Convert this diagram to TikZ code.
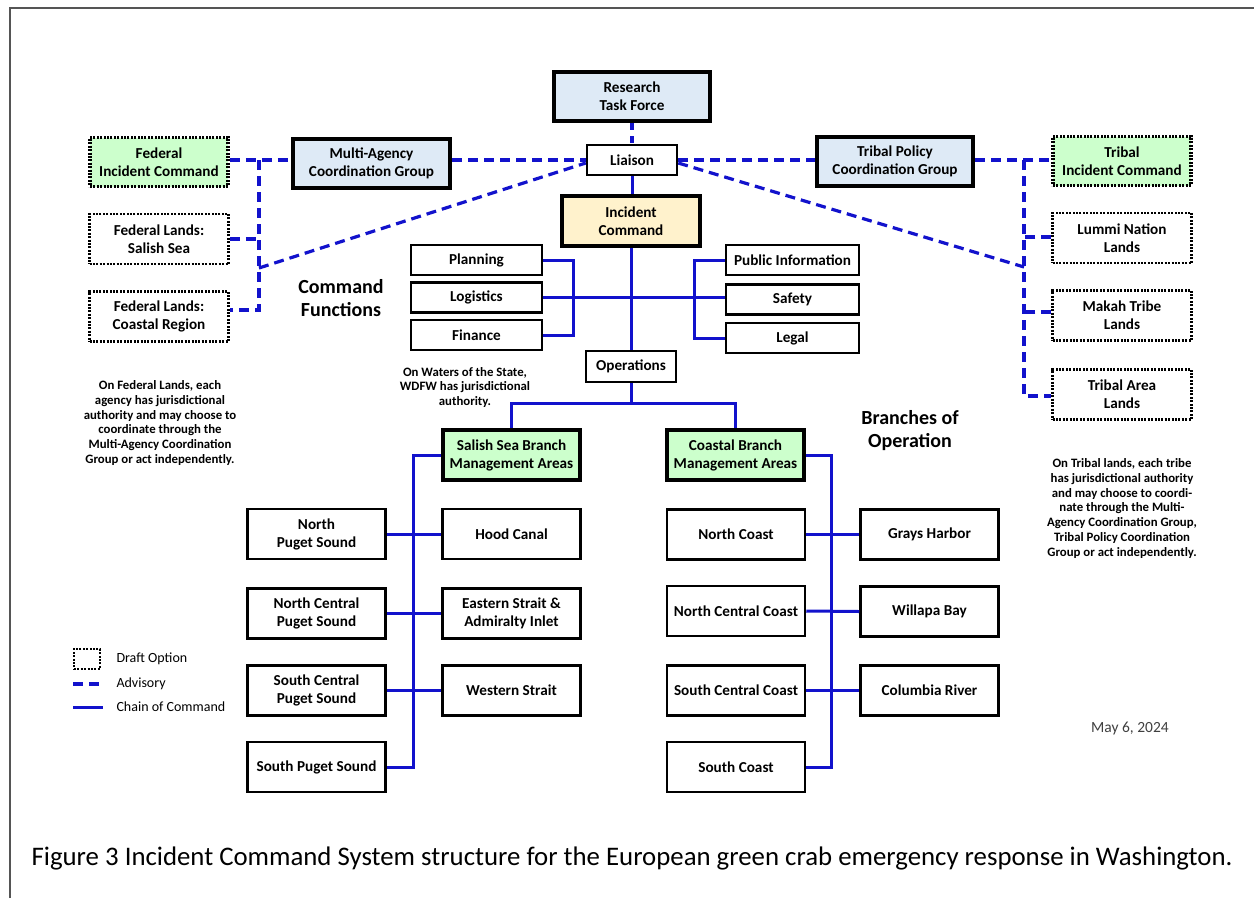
\documentclass[tikz,border=0pt]{standalone}
\usepackage{fontspec}
\setmainfont{Carlito}
\usepackage{xcolor}
\usepackage{tikz}

\definecolor{paleblue}{HTML}{DEEAF6}
\definecolor{paleyellow}{HTML}{FFF2CC}
\definecolor{palegreen}{HTML}{CCFFCC}
\definecolor{cmdblue}{HTML}{1212CC}
\definecolor{framegray}{HTML}{555555}

\begin{document}
\begin{tikzpicture}[
    x=1pt,y=-1pt,
    box/.style={draw,line width=2.5pt,fill=white,align=center,inner sep=0pt,
        font={\fontsize{15.2}{18}\selectfont\bfseries}},
    heavy/.style={box,line width=4pt},
    draft/.style={box,dash pattern=on 2pt off 1.4pt},
    kid/.style={box,minimum width=138pt,minimum height=50pt},
    func/.style={box,minimum width=131pt,minimum height=30pt},
    advisory/.style={cmdblue,line width=3.2pt,dash pattern=on 10pt off 6pt},
    command/.style={cmdblue,line width=3pt},
    note/.style={align=center,font={\fontsize{12.8}{14.7}\selectfont\bfseries}},
    heading/.style={align=center,font={\fontsize{20}{23}\selectfont\bfseries}},
    legend/.style={anchor=west,font={\fontsize{14}{16}\selectfont}},
    ]
    % Page and frame
    \useasboundingbox (0,0) rectangle (1254,898);
    \draw[framegray,line width=2pt] (10,898) -- (10,8) -- (1254,8);

    % Top of the command
    \node[heavy,fill=paleblue,minimum width=156pt,minimum height=49pt]
        (research) at (632,96.5) {Research\\Task Force};
    \node[box,minimum width=90pt,minimum height=30pt]
        (liaison) at (632,160) {Liaison};
    \node[heavy,fill=paleyellow,minimum width=138pt,minimum height=50pt]
        (ic) at (631,221) {Incident\\Command};
    \node[heavy,fill=paleblue,minimum width=157pt,minimum height=49pt]
        (macg) at (371.5,163) {Multi-Agency\\Coordination Group};
    \node[heavy,fill=paleblue,minimum width=156pt,minimum height=49pt]
        (tpcg) at (895,161.5) {Tribal Policy\\Coordination Group};

    % Federal side
    \node[draft,fill=palegreen,line width=3.5pt,minimum width=138pt,minimum height=49pt]
        (fedic) at (159,162) {Federal\\Incident Command};
    \node[draft,minimum width=139pt,minimum height=50pt]
        (fedsalish) at (159,239) {Federal Lands:\\Salish Sea};
    \node[draft,minimum width=139pt,minimum height=50pt]
        (fedcoast) at (159,316.5) {Federal Lands:\\Coastal Region};

    % Tribal side
    \node[draft,fill=palegreen,line width=3.5pt,minimum width=138pt,minimum height=49pt]
        (tribic) at (1122,161) {Tribal\\Incident Command};
    \node[draft,minimum width=139pt,minimum height=50pt]
        (lummi) at (1122,238) {Lummi Nation\\Lands};
    \node[draft,minimum width=139pt,minimum height=50pt]
        (makah) at (1122,315.5) {Makah Tribe\\Lands};
    \node[draft,minimum width=139pt,minimum height=50pt]
        (tribarea) at (1122,394.5) {Tribal Area\\Lands};

    % Command functions
    \node[func] (planning)  at (476.5,260) {Planning};
    \node[func] (logistics) at (476.5,297.5) {Logistics};
    \node[func] (finance)   at (476.5,335) {Finance};
    \node[func,minimum width=133pt] (pubinfo) at (792.5,260) {Public Information};
    \node[func,minimum width=133pt] (safety)  at (792.5,299.5) {Safety};
    \node[func,minimum width=133pt] (legal)   at (792.5,338) {Legal};
    \node[box,minimum width=90pt,minimum height=31pt]
        (ops) at (631,366.5) {Operations};

    % Branches
    \node[heavy,fill=palegreen,minimum width=137pt,minimum height=50pt]
        (salish) at (511.5,455) {Salish Sea Branch\\Management Areas};
    \node[heavy,fill=palegreen,minimum width=137pt,minimum height=50pt]
        (coastal) at (735.5,455) {Coastal Branch\\Management Areas};

    % Salish Sea areas
    \node[kid] (npuget)  at (316.5,534) {North\\Puget Sound};
    \node[kid] (ncpuget) at (316.5,613.5) {North Central\\Puget Sound};
    \node[kid] (scpuget) at (316.5,690.5) {South Central\\Puget Sound};
    \node[kid] (spuget)  at (316.5,767) {South Puget Sound};
    \node[kid] (hood)    at (511.5,534) {Hood Canal};
    \node[kid] (eastern) at (511.5,613.5) {Eastern Strait \&\\Admiralty Inlet};
    \node[kid] (western) at (511.5,690.5) {Western Strait};

    % Coastal areas
    \node[kid] (ncoast)  at (736,534.5) {North Coast};
    \node[kid] (nccoast) at (736,611) {North Central Coast};
    \node[kid] (sccoast) at (736,690.5) {South Central Coast};
    \node[kid] (scoast)  at (736,767) {South Coast};
    \node[kid] (grays)   at (929.5,534.5) {Grays Harbor};
    \node[kid] (willapa) at (929.5,611.5) {Willapa Bay};
    \node[kid] (columbia) at (929.5,690.5) {Columbia River};

    % Texts
    \node[heading] (cmdfunc) at (341,298.5) {Command\\Functions};
    \node[heading] (branchop) at (910,430.5) {Branches of\\Operation};
    \node[note] (waters) at (465,387.5)
        {On Waters of the State,\\WDFW has jurisdictional\\authority.};
    \node[note] (fednote) at (160,423)
        {On Federal Lands, each\\agency has jurisdictional\\authority and may choose to\\
         coordinate through the\\Multi-Agency Coordination\\Group or act independently.};
    \node[note] (tribnote) at (1122,508.5)
        {On Tribal lands, each tribe\\has jurisdictional authority\\and may choose to coordi-\\
         nate through the Multi-\\Agency Coordination Group,\\Tribal Policy Coordination\\
         Group or act independently.};
    \node[font={\fontsize{15.5}{17}\selectfont},text=black!75] (date) at (1130,729) {May 6, 2024};

    % Advisory links, federal side
    \coordinate (fedtop) at (259,160);
    \coordinate (fedbot) at (259,310);
    \coordinate (fedkink) at (259,268);
    \draw[advisory] (fedic.east |- liaison.west) -- (macg.west |- liaison.west);
    \draw[advisory] (macg.east |- liaison.west) -- (liaison.west);
    \draw[advisory] (fedtop) -- (fedbot) -- (fedcoast.east |- fedbot);
    \draw[advisory] (fedsalish.east) -- (fedsalish.east -| fedtop);
    \draw[advisory] (fedkink) -- ([yshift=-3pt]liaison.west);
    % Advisory links, tribal side
    \coordinate (tribtop) at (1024,160);
    \coordinate (tribbot) at (1024,396);
    \coordinate (tribkink) at (1024,267);
    \draw[advisory] (liaison.east) -- (tpcg.west |- liaison.east);
    \draw[advisory] (tpcg.east |- liaison.east) -- (tribic.west |- liaison.east);
    \draw[advisory] (tribtop) -- (tribbot) -- (tribarea.west |- tribbot);
    \draw[advisory] (lummi.west |- 0,237) -- (tribtop |- 0,237);
    \draw[advisory] (makah.west |- 0,312) -- (tribtop |- 0,312);
    \draw[advisory] ([yshift=-3pt]liaison.east) -- (tribkink);
    % Research task force
    \draw[advisory,dash pattern=on 7pt off 6pt] (research.south) -- (liaison.north);

    % Chain of command
    \draw[command] (liaison.south) -- (liaison.south |- ic.north);
    \draw[command] (ic.south) -- (ops.north);
    \coordinate (lbus) at (573,0);
    \coordinate (rbus) at (694,0);
    \draw[command] (planning.east) -| (lbus |- finance.east) -- (finance.east);
    \draw[command] (pubinfo.west) -| (rbus |- legal.west) -- (legal.west);
    \draw[command] (logistics.east) -- (logistics.east -| safety.west);
    \coordinate (opsbus) at (631,403);
    \draw[command] (ops.south) -- (opsbus);
    \draw[command] (salish.north) |- (opsbus) -| (coastal.north);

    % Salish Sea bus
    \coordinate (sbus) at (413,0);
    \draw[command] (salish.west) -| (sbus |- spuget.east) -- (spuget.east);
    \draw[command] (npuget.east) -- (hood.west);
    \draw[command] (ncpuget.east) -- (eastern.west);
    \draw[command] (scpuget.east) -- (western.west);
    % Coastal bus
    \coordinate (cbus) at (831,0);
    \draw[command] (coastal.east) -| (cbus |- scoast.east) -- (scoast.east);
    \draw[command] (ncoast.east) -- (grays.west);
    \draw[command] (nccoast.east) -- (willapa.west);
    \draw[command] (sccoast.east) -- (columbia.west);

    % Legend
    \node[draft,line width=2.5pt,minimum width=26pt,minimum height=20pt] (legdraft) at (87,659) {};
    \node[legend] (legdrafttxt) at (113,659) {Draft Option};
    \coordinate (legadvA) at (73,684);
    \coordinate (legadvB) at (103,684);
    \draw[advisory] (legadvA) -- (legadvB);
    \node[legend] (legadvtxt) at (113,684) {Advisory};
    \coordinate (legcmdA) at (73,707);
    \coordinate (legcmdB) at (103,707);
    \draw[command] (legcmdA) -- (legcmdB);
    \node[legend] (legcmdtxt) at (113,707) {Chain of Command};

    % Caption
    \node[font={\fontsize{26.8}{30}\selectfont}] (caption) at (632,858)
        {Figure 3 Incident Command System structure for the European green crab emergency response in Washington.};
\end{tikzpicture}
\end{document}
